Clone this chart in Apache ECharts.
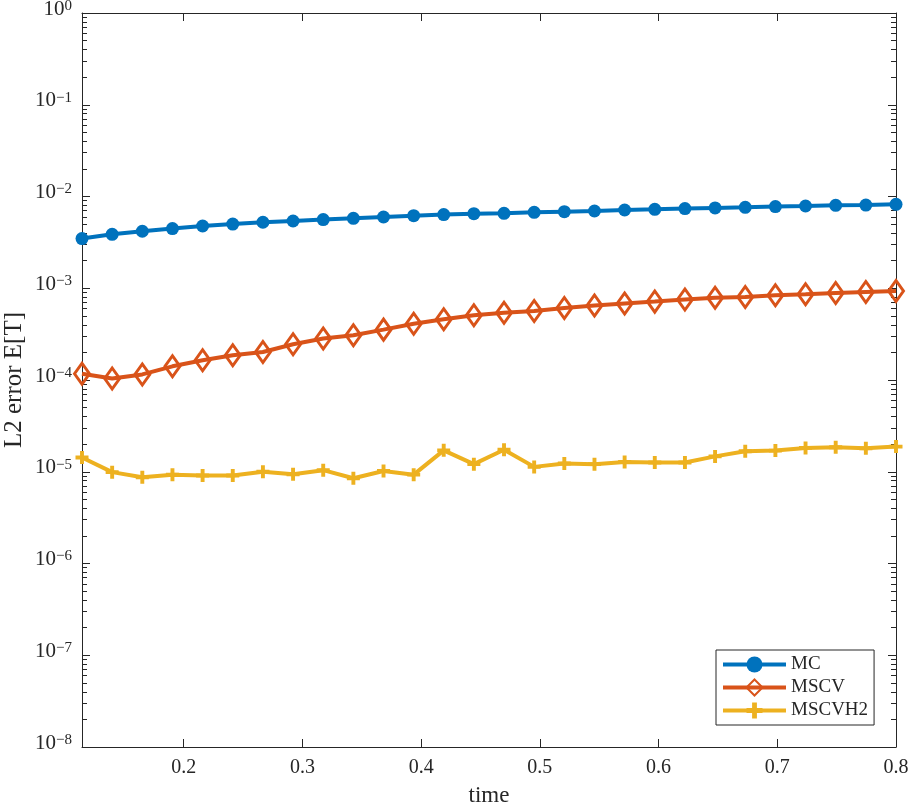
<!DOCTYPE html>
<html>
<head>
<meta charset="utf-8">
<script src="https://cdn.jsdelivr.net/npm/echarts@6/dist/echarts.min.js"></script>
<style>
    html, body { margin: 0; padding: 0; background: #fff; }
    #main { width: 909px; height: 805px; }
</style>
</head>
<body>
<div id="main"></div>
<script>
// time steps (x)
var times = [0.1143, 0.1397, 0.1651, 0.1905, 0.2159, 0.2413, 0.2667, 0.2921, 0.3175, 0.3429,
    0.3683, 0.3937, 0.4190, 0.4444, 0.4698, 0.4952, 0.5206, 0.5460, 0.5714, 0.5968,
    0.6222, 0.6476, 0.6730, 0.6984, 0.7238, 0.7492, 0.7746, 0.8000];

var mc = [3.48e-3, 3.87e-3, 4.18e-3, 4.47e-3, 4.77e-3, 5.01e-3, 5.24e-3, 5.41e-3, 5.60e-3, 5.78e-3,
    5.98e-3, 6.18e-3, 6.35e-3, 6.50e-3, 6.56e-3, 6.73e-3, 6.84e-3, 6.95e-3, 7.13e-3, 7.25e-3,
    7.38e-3, 7.50e-3, 7.62e-3, 7.76e-3, 7.88e-3, 8.01e-3, 8.07e-3, 8.22e-3];

var mscv = [1.17e-4, 1.04e-4, 1.15e-4, 1.41e-4, 1.64e-4, 1.86e-4, 2.02e-4, 2.45e-4, 2.83e-4, 3.07e-4,
    3.54e-4, 4.11e-4, 4.59e-4, 5.07e-4, 5.42e-4, 5.65e-4, 6.09e-4, 6.47e-4, 6.81e-4, 7.15e-4,
    7.52e-4, 7.90e-4, 8.03e-4, 8.38e-4, 8.59e-4, 8.87e-4, 9.10e-4, 9.33e-4];

var mscvh2 = [1.43e-5, 9.9e-6, 8.7e-6, 9.3e-6, 9.1e-6, 9.1e-6, 1.0e-5, 9.4e-6, 1.04e-5, 8.5e-6,
    1.02e-5, 9.3e-6, 1.71e-5, 1.21e-5, 1.74e-5, 1.13e-5, 1.23e-5, 1.21e-5, 1.28e-5, 1.26e-5,
    1.26e-5, 1.47e-5, 1.67e-5, 1.70e-5, 1.82e-5, 1.85e-5, 1.80e-5, 1.88e-5];

var xTicks = [0.2, 0.3, 0.4, 0.5, 0.6, 0.7, 0.8];
var names = ['MC', 'MSCV', 'MSCVH2'];
var colors = ['#0072BD', '#D95319', '#EDB120'];

var FONT = 'Liberation Serif';
var INK = '#262626';

// log minor ticks (2..9 x 10^n), in exponent units for a linear helper axis
var minorTicks = [];
for (var n = -8; n < 0; n++) {
    for (var k = 2; k <= 9; k++) {
        minorTicks.push(Math.log10(k) + n);
    }
}

function pairs(ys) {
    return times.map(function (t, i) { return [t, ys[i]]; });
}

var chart = echarts.init(document.getElementById('main'));

function xAxisDef(pos, withLabels) {
    return {
        type: 'value',
        position: pos,
        min: times[0],
        max: 0.8,
        name: withLabels ? 'time' : '',
        nameLocation: 'middle',
        nameGap: 37,
        nameMoveOverlap: false,
        nameTextStyle: { fontFamily: FONT, fontSize: 23, color: INK },
        axisLine: { show: true, onZero: false, lineStyle: { color: INK, width: 1 } },
        axisTick: { show: true, inside: true, length: 8, customValues: xTicks, lineStyle: { color: INK } },
        axisLabel: {
            show: withLabels, customValues: xTicks, margin: 11,
            fontFamily: FONT, fontSize: 20, color: INK,
            formatter: function (v) { return v.toFixed(1); }
        },
        splitLine: { show: false }
    };
}

function yLogDef(pos, withLabels) {
    return {
        type: 'log',
        logBase: 10,
        position: pos,
        min: 1e-8,
        max: 1,
        interval: 1,
        name: withLabels ? 'L2 error E[T]' : '',
        nameLocation: 'middle',
        nameGap: 55,
        nameMoveOverlap: false,
        nameTextStyle: { fontFamily: FONT, fontSize: 25, color: INK },
        axisLine: { show: true, onZero: false, lineStyle: { color: INK, width: 1 } },
        axisTick: { show: true, inside: true, length: 8, lineStyle: { color: INK } },
        axisLabel: {
            show: withLabels, margin: 10, padding: [0, 0, 8, 0],
            formatter: function (v) {
                var e = Math.round(Math.log10(v));
                return '{b|10}{s|' + (e < 0 ? '\u2212' + (-e) : e) + '}';
            },
            rich: {
                b: { fontFamily: FONT, fontSize: 21, lineHeight: 21, color: INK, verticalAlign: 'bottom', padding: [5, 0, 0, 0] },
                s: { fontFamily: FONT, fontSize: 15, lineHeight: 15, color: INK, verticalAlign: 'top' }
            }
        },
        splitLine: { show: false }
    };
}

function yMinorDef(pos) {
    return {
        type: 'value',
        position: pos,
        min: -8,
        max: 0,
        axisLine: { show: false, onZero: false },
        axisTick: { show: true, inside: true, length: 5, customValues: minorTicks, lineStyle: { color: INK } },
        axisLabel: { show: false },
        splitLine: { show: false }
    };
}

chart.setOption({
    animation: false,
    backgroundColor: '#fff',
    grid: { left: 82, right: 13, top: 13, bottom: 58, outerBoundsMode: 'none' },
    legend: {
        orient: 'vertical',
        left: 716,
        top: 650,
        padding: [5, 6, 5, 5],
        itemWidth: 63,
        itemHeight: 20,
        itemGap: 4,
        borderColor: INK,
        borderWidth: 1,
        backgroundColor: '#fff',
        lineStyle: { width: 4 },
        textStyle: { fontFamily: FONT, fontSize: 19, color: INK },
        data: names
    },
    xAxis: [xAxisDef('bottom', true), xAxisDef('top', false)],
    yAxis: [yLogDef('left', true), yLogDef('right', false), yMinorDef('left'), yMinorDef('right')],
    series: [{
        name: names[0],
        type: 'line',
        xAxisIndex: 0,
        yAxisIndex: 0,
        data: pairs(mc),
        symbol: 'circle',
        symbolSize: 13,
        itemStyle: { color: colors[0] },
        lineStyle: { color: colors[0], width: 4 }
    }, {
        name: names[1],
        type: 'line',
        xAxisIndex: 0,
        yAxisIndex: 0,
        data: pairs(mscv),
        symbol: 'diamond',
        symbolSize: [15, 21],
        itemStyle: { color: 'rgba(255,255,255,0)', borderColor: colors[1], borderWidth: 3 },
        lineStyle: { color: colors[1], width: 4 }
    }, {
        name: names[2],
        type: 'line',
        xAxisIndex: 0,
        yAxisIndex: 0,
        data: pairs(mscvh2),
        symbol: 'path://M3.5,0H6.5V3.5H10V6.5H6.5V10H3.5V6.5H0V3.5H3.5Z',
        symbolSize: 13,
        itemStyle: { color: colors[2] },
        lineStyle: { color: colors[2], width: 4 }
    }]
});
</script>
</body>
</html>
